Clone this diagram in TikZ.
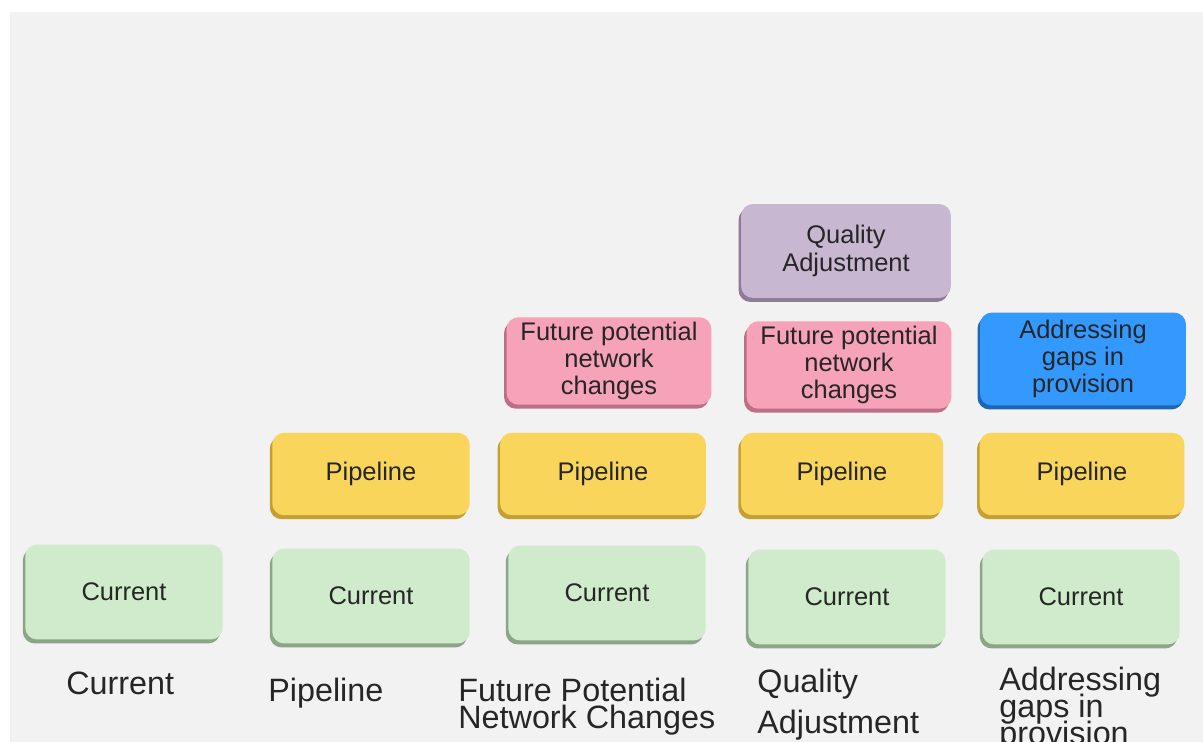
\documentclass[tikz,border=0pt]{standalone}
\usepackage{fontspec}
\setmainfont{Liberation Sans}
\usetikzlibrary{shadows}

\definecolor{bggray}{HTML}{F2F2F2}
\definecolor{txt}{HTML}{262626}
\definecolor{curfill}{HTML}{D0EBCB}
\definecolor{curedge}{HTML}{8CA587}
\definecolor{pipefill}{HTML}{F9D55B}
\definecolor{pipeedge}{HTML}{C4A033}
\definecolor{futfill}{HTML}{F6A2B8}
\definecolor{futedge}{HTML}{BC6F86}
\definecolor{qualfill}{HTML}{C8B7D0}
\definecolor{qualedge}{HTML}{8C7D94}
\definecolor{gapfill}{HTML}{3399FF}
\definecolor{gapedge}{HTML}{1E66B4}

% tight lines for the captions under the columns
\newcommand{\lblfont}{\fontsize{18.4}{15.2}\selectfont\lineskiplimit=-20pt\relax}

\begin{document}
\begin{tikzpicture}[x=0.02cm,y=-0.02cm,
  box/.style={rounded corners=0.24cm,text=txt,align=center,inner sep=0pt,
    font=\fontsize{14.5}{15.6}\selectfont},
  cur/.style={box,fill=curfill,minimum width=3.95cm,minimum height=1.9cm,
    general shadow={fill=curedge,shadow xshift=-0.05cm,shadow yshift=-0.08cm}},
  pipe/.style={box,fill=pipefill,minimum height=1.65cm,
    general shadow={fill=pipeedge,shadow xshift=-0.05cm,shadow yshift=-0.08cm}},
  fut/.style={box,fill=futfill,minimum width=4.1cm,minimum height=1.75cm,
    general shadow={fill=futedge,shadow xshift=-0.05cm,shadow yshift=-0.08cm}},
  qual/.style={box,fill=qualfill,minimum width=4.2cm,minimum height=1.88cm,
    general shadow={fill=qualedge,shadow xshift=-0.05cm,shadow yshift=-0.08cm}},
  gap/.style={box,fill=gapfill,minimum width=4.12cm,minimum height=1.86cm,
    general shadow={fill=gapedge,shadow xshift=-0.05cm,shadow yshift=-0.08cm}},
  % base west of a multi-line label sits on its last line
  lbl/.style={anchor=base west,align=left,inner sep=0pt,text=txt,font=\lblfont}]
\useasboundingbox (0,0) rectangle (1203,742);
\fill[bggray] (10,12) rectangle (1203,742);

% first column
\node[cur] (cur1) at (124,592) {Current};
\node[lbl] (lbl1) at (66,694) {Current};

% second column
\node[pipe,minimum width=3.95cm] (pipe2) at (371,474) {Pipeline};
\node[cur] (cur2) at (371,596) {Current};
\node[lbl] (lbl2) at (268,701) {Pipeline};

% third column
\node[fut] (fut3) at (609,361) {Future potential\\network\\changes};
\node[pipe,minimum width=4.12cm] (pipe3) at (603,474) {Pipeline};
\node[cur] (cur3) at (607,593) {Current};
\node[lbl] (lbl3) at (458,728) {Future Potential\\Network Changes};

% fourth column
\node[qual] (qual4) at (846,251) {Quality\\Adjustment};
\node[fut] (fut4) at (849,365) {Future potential\\network\\changes};
\node[pipe,minimum width=4.05cm] (pipe4) at (842,474) {Pipeline};
\node[cur] (cur4) at (847,597) {Current};
\node[lbl] (lbl4) at (757,733) {Quality\\[8pt]Adjustment};

% fifth column
\node[gap] (gap5) at (1083,359) {Addressing\\gaps in\\provision};
\node[pipe,minimum width=4.1cm] (pipe5) at (1082,474) {Pipeline};
\node[cur] (cur5) at (1081,597) {Current};
\node[lbl] (lbl5) at (999,744) {Addressing\\gaps in\\provision};
\end{tikzpicture}
\end{document}
